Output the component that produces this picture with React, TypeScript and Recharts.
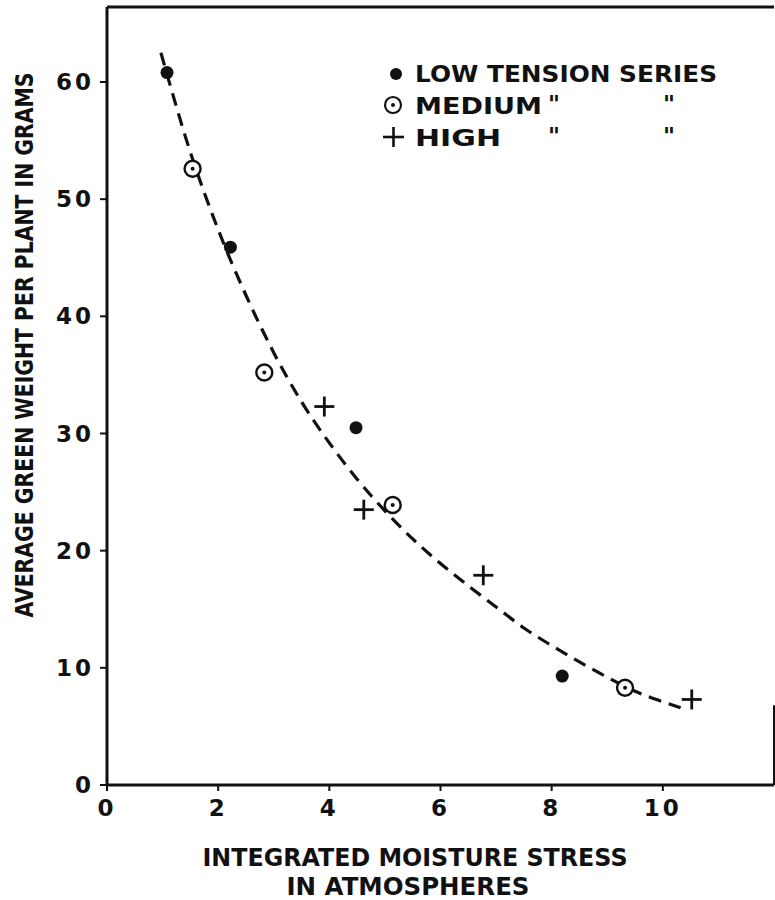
import { ComposedChart, Scatter, Line, XAxis, YAxis, ReferenceLine } from "recharts";

// stress (atm) vs green weight (g)
const lowSeries = [
  { x: 1.08, y: 60.8 },
  { x: 2.22, y: 45.9 },
  { x: 4.48, y: 30.5 },
  { x: 8.19, y: 9.3 },
];
const mediumSeries = [
  { x: 1.54, y: 52.6 },
  { x: 2.83, y: 35.2 },
  { x: 5.14, y: 23.9 },
  { x: 9.32, y: 8.3 },
];
const highSeries = [
  { x: 3.91, y: 32.3 },
  { x: 4.62, y: 23.5 },
  { x: 6.77, y: 17.9 },
  { x: 10.52, y: 7.3 },
];

// fitted curve (dashed)
const curveStress = [0.97, 1.5, 2.0, 2.5, 3.0, 3.5, 4.0, 4.5, 5.0, 5.5, 6.0, 6.5, 7.0, 7.5, 8.0, 8.5, 9.0, 9.5, 10.0, 10.32];
const curveWeight = [62.5, 54.0, 47.4, 41.8, 36.9, 32.7, 29.2, 26.1, 23.4, 21.0, 18.9, 17.0, 15.2, 13.4, 11.9, 10.5, 9.2, 8.0, 7.1, 6.6];

const xTicks = [0, 2, 4, 6, 8, 10];
const yTicks = [0, 10, 20, 30, 40, 50, 60];

const curve = curveStress.map((x, i) => ({ x, y: curveWeight[i] }));

const INK = "#111";
const FONT = "'DejaVu Sans', sans-serif";

const FilledDot = (p: any) => <circle cx={p.cx} cy={p.cy} r={6.5} fill={INK} />;

const RingDot = (p: any) => (
  <g>
    <circle cx={p.cx} cy={p.cy} r={8} fill="#fff" stroke={INK} strokeWidth={2.4} />
    <circle cx={p.cx} cy={p.cy} r={2} fill={INK} />
  </g>
);

const PlusMark = (p: any) => (
  <g stroke={INK} strokeWidth={2.8}>
    <line x1={p.cx - 10} y1={p.cy} x2={p.cx + 10} y2={p.cy} />
    <line x1={p.cx} y1={p.cy - 10} x2={p.cx} y2={p.cy + 10} />
  </g>
);

const tickStyle = { fontSize: 23, fontWeight: 700, fill: INK, fontFamily: FONT, letterSpacing: 3 };

function LegendBox() {
  const t = { fontSize: 23, fontWeight: 700, fill: INK, fontFamily: FONT };
  return (
    <svg width={360} height={110}>
      <circle cx={16} cy={19} r={6} fill={INK} />
      <text x={35} y={27} {...t} textLength={302} lengthAdjust="spacingAndGlyphs">LOW TENSION SERIES</text>
      <circle cx={13} cy={50} r={8} fill="none" stroke={INK} strokeWidth={2.2} />
      <circle cx={13} cy={50} r={2} fill={INK} />
      <text x={35} y={59} {...t} textLength={127} lengthAdjust="spacingAndGlyphs">MEDIUM</text>
      <text x={168} y={57} {...t}>"</text>
      <text x={283} y={57} {...t}>"</text>
      <g stroke={INK} strokeWidth={2.6}>
        <line x1={3} y1={82} x2={24} y2={82} />
        <line x1={13.5} y1={72} x2={13.5} y2={92} />
      </g>
      <text x={35} y={91} {...t} textLength={86} lengthAdjust="spacingAndGlyphs">HIGH</text>
      <text x={168} y={89} {...t}>"</text>
      <text x={283} y={89} {...t}>"</text>
    </svg>
  );
}

export default function App() {
  return (
    <div style={{ position: "absolute", left: 0, top: 0, width: 775, height: 900, background: "#fff" }}>
      <ComposedChart width={775} height={900} margin={{ top: 7, right: 1, bottom: 0, left: 0 }}>
        <XAxis
          type="number"
          dataKey="x"
          domain={[0, 12]}
          ticks={xTicks}
          allowDataOverflow
          height={115}
          axisLine={{ stroke: INK, strokeWidth: 3 }}
          tickLine={{ stroke: INK, strokeWidth: 2 }}
          tickSize={6}
          tickMargin={9}
          tick={tickStyle}
          label={{
            content: () => (
              <g>
                <text x={415} y={866} textAnchor="middle" fontSize={24} fontWeight={700} fill={INK} fontFamily={FONT} textLength={425} lengthAdjust="spacingAndGlyphs">
                  INTEGRATED MOISTURE STRESS
                </text>
                <text x={408} y={895} textAnchor="middle" fontSize={24} fontWeight={700} fill={INK} fontFamily={FONT} textLength={243} lengthAdjust="spacingAndGlyphs">
                  IN ATMOSPHERES
                </text>
              </g>
            ),
          }}
        />
        <YAxis
          type="number"
          dataKey="y"
          domain={[0, 66.4]}
          ticks={yTicks}
          allowDataOverflow
          width={107}
          axisLine={{ stroke: INK, strokeWidth: 3 }}
          tickLine={{ stroke: INK, strokeWidth: 2 }}
          tickSize={7}
          tickMargin={6}
          tick={tickStyle}
          label={{
            content: () => (
              <text
                x={0}
                y={0}
                transform="translate(33 345) rotate(-90) scale(1 1.2)"
                textAnchor="middle"
                fontSize={20}
                fontWeight={700}
                fill={INK}
                fontFamily={FONT}
                textLength={545}
                lengthAdjust="spacingAndGlyphs"
              >
                AVERAGE GREEN WEIGHT PER PLANT IN GRAMS
              </text>
            ),
          }}
        />
        <ReferenceLine y={66.4} stroke={INK} strokeWidth={3} ifOverflow="visible" />
        <ReferenceLine
          segment={[{ x: 12, y: 0 }, { x: 12, y: 6.8 }]}
          stroke={INK}
          strokeWidth={2}
          ifOverflow="visible"
        />
        <Line
          data={curve}
          dataKey="y"
          type="monotone"
          stroke={INK}
          strokeWidth={3.2}
          strokeDasharray="13 8"
          dot={false}
          activeDot={false}
          isAnimationActive={false}
          legendType="none"
        />
        <Scatter data={lowSeries} dataKey="y" shape={FilledDot} isAnimationActive={false} />
        <Scatter data={mediumSeries} dataKey="y" shape={RingDot} isAnimationActive={false} />
        <Scatter data={highSeries} dataKey="y" shape={PlusMark} isAnimationActive={false} />
      </ComposedChart>
      <div style={{ position: "absolute", left: 380, top: 55 }}>
        <LegendBox />
      </div>
    </div>
  );
}
